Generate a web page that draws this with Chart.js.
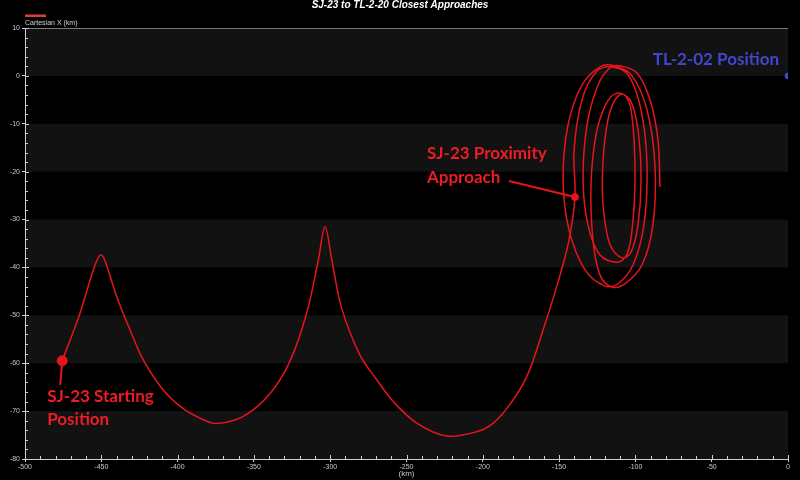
<!DOCTYPE html>
<html><head><meta charset="utf-8">
<script src="https://cdn.jsdelivr.net/npm/chart.js@4/dist/chart.umd.min.js"></script>
<style>html,body{margin:0;padding:0;background:#000;overflow:hidden;}#wrap{width:800px;height:480px;position:relative;}</style>
</head><body><div id="wrap"><canvas id="c" width="800" height="480"></canvas></div>
<script>
const chartTitle = 'SJ-23 to TL-2-20 Closest Approaches';
const seriesLabel = 'Cartesian X (km)';
const xAxisTitle = '(km)';
const xTickValues = [-500,-450,-400,-350,-300,-250,-200,-150,-100,-50,0];
const yTickValues = [10,0,-10,-20,-30,-40,-50,-60,-70,-80];

// trajectory (x km, y km)
const pathX = [-475.6,-464.0,-456.5,-453.0,-450.2,-447.6,-439.9,-431.2,-422.5,-409.4,-396.3,-383.2,-374.4,-357.0,-339.4,-326.3,-315.4,-307.8,-303.4,-299.0,-292.5,-280.5,-269.6,-258.7,-243.3,-223.7,-204.0,-193.1,-182.2,-171.2,-160.9,-151.6,-143.9,-139.6,
  -140.2,-135.0,-125.8,-116.6,-104.8,-96.3,-92.4,-94.4,-101.6,-111.4,-119.9,
  -133.0,-143.5,-147.4,-144.2,-135.0,-123.2,-114.0,-102.2,-92.4,-87.2,-88.5,-95.7,-106.8,-115.3,
  -123.2,-127.8,-129.1,-125.8,-119.3,-112.1,-103.5,-98.3,-96.3,-98.3,-102.9,-108.8,
  -116.6,-121.2,-121.2,-118.0,-113.4,-108.1,-103.5,-100.9,-100.3,-102.2,-105.5,-111.4,
  -123.2,-131.1,-134.3,-131.7,-124.5,-116.6,-110.1,-99.0,-90.4,-85.2,-83.9];
const pathY = [-59.5,-49.6,-41.8,-38.6,-37.4,-38.6,-46.1,-53.0,-59.3,-65.6,-69.5,-71.8,-72.6,-71.1,-66.3,-59.5,-49.5,-38.5,-31.5,-38.3,-48.5,-58.3,-63.4,-68.0,-72.5,-75.2,-74.3,-72.5,-68.6,-62.8,-53.5,-44.0,-34.9,-25.3,
  -15.5,-5.0,0.8,1.9,0.2,-7.1,-18.6,-31.1,-39.5,-43.4,-43.9,
  -40.5,-32.2,-21.7,-10.3,-1.9,1.9,2.1,0.0,-7.1,-18.6,-31.1,-39.5,-43.4,-44.1,
  -41.6,-34.3,-22.8,-12.3,-5.9,-3.6,-5.0,-11.3,-21.7,-31.1,-36.8,-38.0,
  -35.3,-27.0,-17.6,-9.2,-5.0,-3.8,-6.1,-13.4,-22.8,-32.2,-37.2,-38.9,
  -37.4,-31.1,-21.7,-10.3,-1.9,1.7,2.1,0.6,-5.0,-13.4,-23.2];

const startPoint = {x:-475.6, y:-59.5};
const proximityPoint = {x:-139.6, y:-25.3};
const targetPoint = {x:0, y:0};
const startLabel = ['SJ-23 Starting','Position'];
const proximityLabel = ['SJ-23 Proximity','Approach'];
const targetLabel = ['TL-2-02 Position'];

const RED = '#e8141c';
const TXT_RED = '#ee1c25';
const BLUE = '#3f48cc';

const bands = {
  id:'bands',
  beforeDraw(chart){
    const {ctx, chartArea:a, scales:{y}} = chart;
    ctx.save();
    ctx.fillStyle='#000'; ctx.fillRect(0,0,chart.width,chart.height);
    for (let i=0;i<yTickValues.length-1;i++){
      if (i%2===0){
        const y1=y.getPixelForValue(yTickValues[i]), y2=y.getPixelForValue(yTickValues[i+1]);
        ctx.fillStyle='#121212'; ctx.fillRect(a.left,y1,a.right-a.left,y2-y1);
      }
    }
    ctx.restore();
  },
  afterDraw(chart){
    const {ctx, chartArea:a, scales:{x,y}} = chart;
    ctx.save();
    ctx.strokeStyle='#7a7a7a'; ctx.lineWidth=1;
    ctx.beginPath(); ctx.moveTo(a.left, a.top+0.5); ctx.lineTo(a.right, a.top+0.5); ctx.stroke();
    ctx.strokeStyle='#cfcfcf';
    for (let v=y.min; v<=y.max; v+=2){
      const py=Math.round(y.getPixelForValue(v))+0.5;
      const major = v%10===0;
      ctx.beginPath(); ctx.moveTo(a.left, py); ctx.lineTo(a.left+(major?4:3), py); ctx.stroke();
    }
    for (let v=x.min; v<=x.max; v+=10){
      const px=Math.round(x.getPixelForValue(v))+0.5;
      const major = v%50===0;
      ctx.beginPath(); ctx.moveTo(px, a.bottom); ctx.lineTo(px, a.bottom-(major?4:3)); ctx.stroke();
    }
    ctx.fillStyle='#ffffff'; ctx.font='bold italic 10px "Liberation Sans", Arial';
    ctx.textAlign='center'; ctx.textBaseline='middle';
    ctx.fillText(chartTitle, 400, 5);
    ctx.fillStyle='#e03a3a'; ctx.fillRect(a.left, 14.5, 21, 2.5);
    ctx.fillStyle='#d0d0d0'; ctx.font='7px "Liberation Sans", Arial'; ctx.textAlign='left';
    ctx.fillText(seriesLabel, a.left, 23);
    ctx.restore();
  },
  afterDatasetsDraw(chart){
    const {ctx, scales:{x,y}} = chart;
    ctx.save();
    ctx.font='bold 17px Lato, "Open Sans", sans-serif';
    ctx.textBaseline='middle';
    let px=x.getPixelForValue(startPoint.x), py=y.getPixelForValue(startPoint.y);
    ctx.strokeStyle=RED; ctx.lineWidth=2;
    ctx.beginPath(); ctx.moveTo(px, py); ctx.lineTo(px-2, py+24); ctx.stroke();
    ctx.fillStyle=TXT_RED; ctx.textAlign='left';
    ctx.fillText(startLabel[0], px-15, py+36);
    ctx.fillText(startLabel[1], px-15, py+59);
    px=x.getPixelForValue(proximityPoint.x); py=y.getPixelForValue(proximityPoint.y);
    ctx.beginPath(); ctx.moveTo(px, py); ctx.lineTo(px-66, py-16); ctx.stroke();
    ctx.fillText(proximityLabel[0], px-148, py-44);
    ctx.fillText(proximityLabel[1], px-148, py-20);
    px=x.getPixelForValue(targetPoint.x); py=y.getPixelForValue(targetPoint.y);
    ctx.fillStyle=BLUE; ctx.textAlign='right';
    ctx.fillText(targetLabel[0], px-9, py-16);
    ctx.restore();
  }
};

new Chart(document.getElementById('c'), {
  type:'scatter',
  data:{datasets:[
    {label:seriesLabel, data:pathX.map((v,i)=>({x:v,y:pathY[i]})), showLine:true, borderColor:RED, borderWidth:1.5, pointRadius:0, tension:0.35, order:2},
    {label:'start', data:[startPoint], pointRadius:5, backgroundColor:RED, borderColor:RED, order:1},
    {label:'prox', data:[proximityPoint], pointRadius:3.5, backgroundColor:RED, borderColor:RED, order:1},
    {label:'target', data:[targetPoint], pointRadius:3, backgroundColor:BLUE, borderColor:BLUE, order:1}
  ]},
  options:{
    responsive:false, maintainAspectRatio:false, animation:false, devicePixelRatio:1,
    layout:{autoPadding:false, padding:{top:28,left:0,right:12,bottom:0}},
    plugins:{legend:{display:false}, title:{display:false}, tooltip:{enabled:false}},
    scales:{
      x:{type:'linear', min:-500, max:0,
        afterBuildTicks(s){ s.ticks = xTickValues.map(v=>({value:v})); },
        afterFit(s){ s.height=21; },
        ticks:{color:'#c8c8c8', font:{size:7, family:'"Liberation Sans", Arial'}, padding:1, maxRotation:0, autoSkip:false},
        grid:{display:true, drawOnChartArea:false, tickLength:3, color:'#cfcfcf'},
        border:{display:true, color:'#cfcfcf', width:1},
        title:{display:true, text:xAxisTitle, color:'#c8c8c8', font:{size:8, family:'"Liberation Sans", Arial'}, padding:{top:0,bottom:1}}
      },
      y:{type:'linear', min:-80, max:10,
        afterBuildTicks(s){ s.ticks = yTickValues.map(v=>({value:v})); },
        afterFit(s){ s.width=25; },
        ticks:{color:'#c8c8c8', font:{size:7, family:'"Liberation Sans", Arial'}, padding:2, autoSkip:false},
        grid:{display:true, drawOnChartArea:false, tickLength:3, color:'#cfcfcf'},
        border:{display:true, color:'#cfcfcf', width:1}
      }
    }
  },
  plugins:[bands]
});
</script></body></html>
